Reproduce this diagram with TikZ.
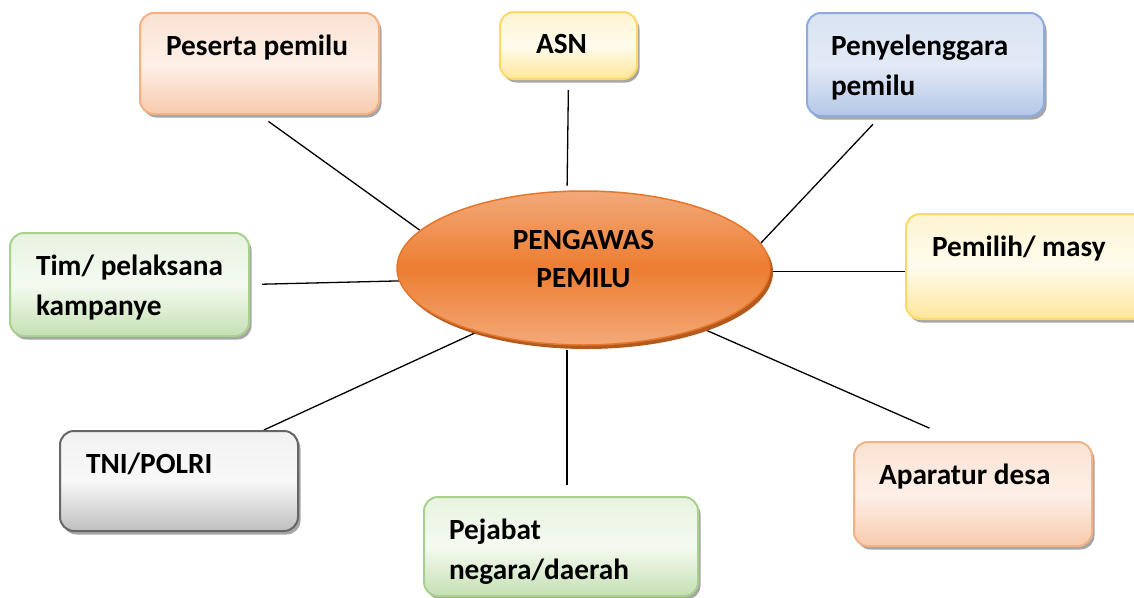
\documentclass[tikz,border=0pt]{standalone}
\usepackage{fontspec}
\setmainfont{Carlito}
\usetikzlibrary{shapes.geometric,shadows,backgrounds}

\definecolor{OrgLine}{HTML}{F4B183}
\definecolor{OrgTop}{HTML}{FBE2D2}
\definecolor{OrgMid}{HTML}{FDF0E8}
\definecolor{OrgBot}{HTML}{F8CBAD}
\definecolor{YelLine}{HTML}{FFD966}
\definecolor{YelTop}{HTML}{FFF4D1}
\definecolor{YelMid}{HTML}{FFFBEE}
\definecolor{YelBot}{HTML}{FFE699}
\definecolor{BluLine}{HTML}{8FAADC}
\definecolor{BluTop}{HTML}{DAE3F3}
\definecolor{BluMid}{HTML}{E3EAF6}
\definecolor{BluBot}{HTML}{B4C7E7}
\definecolor{GrnLine}{HTML}{A9D18E}
\definecolor{GrnTop}{HTML}{E8F3E1}
\definecolor{GrnMid}{HTML}{F4FAF0}
\definecolor{GrnBot}{HTML}{C5E0B4}
\definecolor{GryLine}{HTML}{666666}
\definecolor{GryTop}{HTML}{F2F2F2}
\definecolor{GryMid}{HTML}{F8F8F8}
\definecolor{GryBot}{HTML}{BFBFBF}
\definecolor{EllLine}{HTML}{E5762A}
\definecolor{EllTop}{HTML}{F3A979}
\definecolor{EllMid}{HTML}{ED7D31}
\definecolor{EllShadow}{HTML}{B55A1E}

% box text: width, height, left inset, text
\newcommand\isikotak[4]{\parbox[c][#2][t]{#1}{\raggedright\leftskip=#3\relax\vspace*{14pt}\strut #4}}

\tikzset{
  kotak/.style={draw, rectangle, rounded corners=14pt, line width=2pt, inner sep=0pt,
    anchor=north west, font=\bfseries\fontsize{29.3}{40}\selectfont,
    drop shadow={shadow xshift=2.5pt, shadow yshift=-3.5pt, opacity=.35, fill=black}},
  oranye/.style={kotak, draw=OrgLine, top color=OrgTop, bottom color=OrgBot, middle color=OrgMid},
  kuning/.style={kotak, draw=YelLine, top color=YelTop, bottom color=YelBot, middle color=YelMid},
  biru/.style={kotak, draw=BluLine, top color=BluTop, bottom color=BluBot, middle color=BluMid},
  hijau/.style={kotak, draw=GrnLine, top color=GrnTop, bottom color=GrnBot, middle color=GrnMid},
  abu/.style={kotak, draw=GryLine, top color=GryTop, bottom color=GryBot, middle color=GryMid},
  pusat/.style={ellipse, draw=EllLine, line width=1.5pt, minimum width=373pt, minimum height=154pt,
    inner sep=0pt, top color=EllTop, bottom color=EllTop, middle color=EllMid,
    drop shadow={shadow xshift=3pt, shadow yshift=-4pt, opacity=1, fill=EllShadow},
    font=\bfseries\fontsize{29.3}{38}\selectfont},
  garis/.style={line width=1.3pt, black}
}

\begin{document}
\begin{tikzpicture}[x=1pt,y=-1pt]
  \useasboundingbox (0,0) rectangle (1134,597);

  \node[pusat] (pengawas) at (583.5,268)
    {\raisebox{0pt}[\height][\dimexpr\depth+14pt\relax]{\begin{tabular}{@{}c@{}}PENGAWAS\\PEMILU\end{tabular}}};

  \node[oranye] (peserta) at (139,12) {\isikotak{239pt}{101pt}{26pt}{Peserta pemilu}};
  \node[kuning] (asn) at (499,11) {\isikotak{137pt}{67pt}{36pt}{ASN}};
  \node[biru] (penyelenggara) at (806,12) {\isikotak{237pt}{103pt}{24pt}{Penyelenggara\\pemilu}};
  \node[hijau] (tim) at (9,232) {\isikotak{239pt}{103pt}{26pt}{Tim/ pelaksana\\kampanye}};
  \node[kuning] (pemilih) at (905,213) {\isikotak{240pt}{105pt}{26pt}{Pemilih/ masy}};
  \node[abu] (tni) at (59,430) {\isikotak{238pt}{100pt}{26pt}{TNI/POLRI}};
  \node[hijau] (pejabat) at (423,496) {\isikotak{274pt}{99pt}{25pt}{Pejabat\\negara/daerah}};
  \node[oranye] (aparatur) at (853,441) {\isikotak{238pt}{104pt}{25pt}{Aparatur desa}};

  \begin{scope}[on background layer]
    \fill[white] (0,0) rectangle (1134,597);
    \draw[garis, shorten <=11pt] (peserta.south) -- (pengawas.167);
    \draw[garis, shorten <=10pt, shorten >=5pt] (asn.south) -- (pengawas.102);
    \draw[garis, shorten <=10pt] (penyelenggara.229.5) -- (pengawas.8);
    \draw[garis, shorten <=12pt] (tim.east) -- (pengawas.184);
    \draw[garis] (pengawas.-1) -- (pengawas.-1 -| pemilih.west);
    \draw[garis] (tni.31.4) -- (pengawas.211);
    \draw[garis, shorten <=5pt, shorten >=11pt] (pengawas.258) -- (pengawas.258 |- pejabat.north);
    \draw[garis, shorten >=32pt] (pengawas.-27) -- (aparatur.105);
  \end{scope}
\end{tikzpicture}
\end{document}
